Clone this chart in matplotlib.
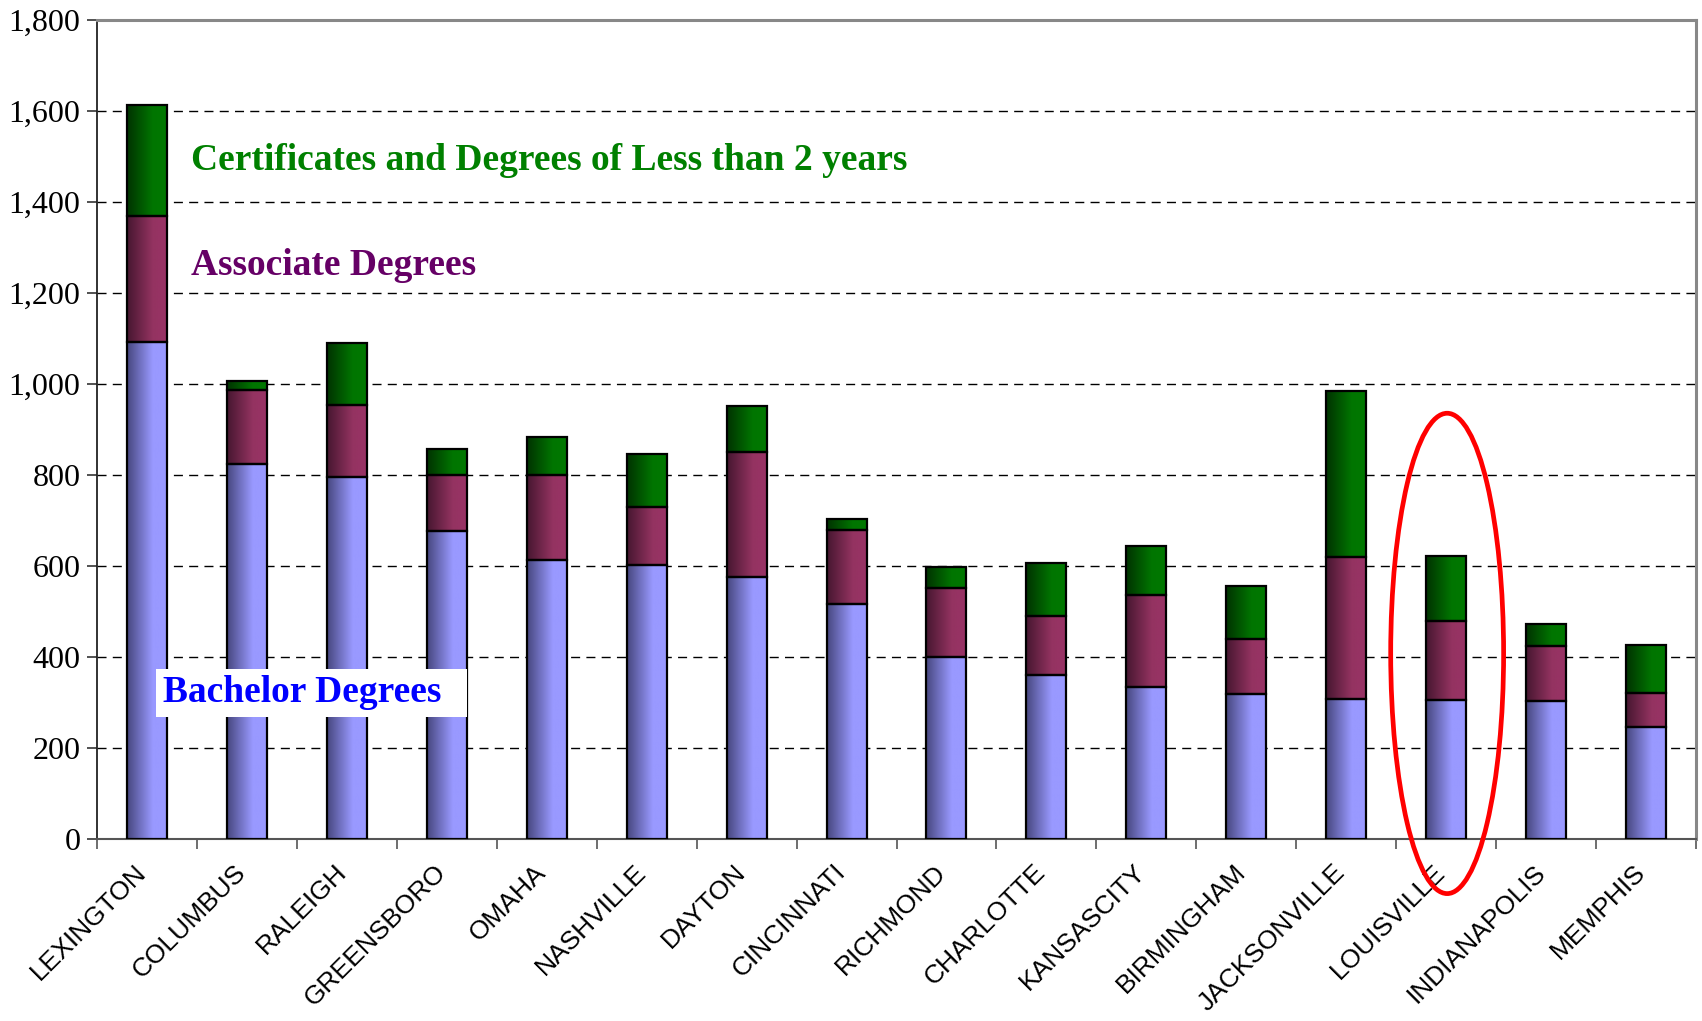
import numpy as np
import matplotlib
matplotlib.use("Agg")
import matplotlib.pyplot as plt
import matplotlib.transforms as mtransforms
from matplotlib.patches import Ellipse
from matplotlib.colors import LinearSegmentedColormap
from matplotlib.ticker import FuncFormatter, FixedLocator

cities = ["LEXINGTON", "COLUMBUS", "RALEIGH", "GREENSBORO", "OMAHA", "NASHVILLE",
          "DAYTON", "CINCINNATI", "RICHMOND", "CHARLOTTE", "KANSASCITY",
          "BIRMINGHAM", "JACKSONVILLE", "LOUISVILLE", "INDIANAPOLIS", "MEMPHIS"]
bachelor = [1091, 824, 795, 676, 613, 601, 575, 516, 399, 360, 332, 317, 307, 304, 302, 246]
associate = [277, 162, 157, 124, 187, 127, 275, 162, 152, 129, 203, 122, 312, 175, 121, 73]
certificates = [243, 19, 136, 55, 83, 117, 100, 24, 46, 117, 107, 115, 364, 142, 48, 106]
yticks = [0, 200, 400, 600, 800, 1000, 1200, 1400, 1600, 1800]
highlight = "LOUISVILLE"

fig = plt.figure(figsize=(17.02, 10.21), dpi=100)
ax = fig.add_axes([97 / 1702, 1 - 838.5 / 1021, (1696 - 97) / 1702, (838.5 - 19.5) / 1021])

x = np.arange(len(cities))
b = np.array(bachelor)
a = np.array(associate)
c = np.array(certificates)

grads = {
    "blue": [(0.0, (0.28, 0.28, 0.50)), (0.65, (0.60, 0.60, 1.0)), (1.0, (0.60, 0.60, 1.0))],
    "purple": [(0.0, (0.28, 0.09, 0.19)), (0.65, (0.58, 0.20, 0.38)), (1.0, (0.60, 0.20, 0.40))],
    "green": [(0.0, (0.0, 0.20, 0.0)), (0.65, (0.0, 0.46, 0.0)), (1.0, (0.0, 0.47, 0.0))],
}
grad_img = np.linspace(0, 1, 64).reshape(1, -1)

def grad_bars(bottom, height, key):
    cmap = LinearSegmentedColormap.from_list(key, grads[key])
    bars = ax.bar(x, height, width=0.4, bottom=bottom, facecolor="none",
                  edgecolor="black", linewidth=1.6, zorder=4)
    for r in bars:
        x0, y0 = r.get_x(), r.get_y()
        w, h = r.get_width(), r.get_height()
        im = ax.imshow(grad_img, cmap=cmap, aspect="auto", extent=(x0, x0 + w, y0, y0 + h),
                       zorder=3, interpolation="bilinear")
        im.set_clip_path(r)
    return bars

grad_bars(0, b, "blue")
grad_bars(b, a, "purple")
grad_bars(b + a, c, "green")

ax.set_xlim(-0.5, len(cities) - 0.5)
ax.set_ylim(0, 1800)

# grid
for yv in yticks[1:-1]:
    ax.axhline(yv, color="black", linewidth=1.0, linestyle=(0, (6.5, 4.5)), zorder=1)

ax.yaxis.set_major_locator(FixedLocator(yticks))
ax.yaxis.set_major_formatter(FuncFormatter(lambda v, p: f"{int(v):,}"))
ax.tick_params(axis="y", direction="out", length=7, width=1.2, color="#333333", pad=5,
               labelsize=23)
for lab in ax.get_yticklabels():
    lab.set_fontfamily("Liberation Serif")

ax.set_xticks(x)
ax.set_xticklabels(cities, rotation=45, ha="right", rotation_mode="anchor",
                   fontfamily="Liberation Sans", fontsize=19)
ax.tick_params(axis="x", which="major", length=0, pad=14)
offset = mtransforms.ScaledTranslation(-13 / 100, -2 / 100, fig.dpi_scale_trans)
for lab in ax.get_xticklabels():
    lab.set_transform(lab.get_transform() + offset)
ax.set_xticks(np.arange(-0.5, len(cities)), minor=True)
ax.tick_params(axis="x", which="minor", direction="out", length=7, width=1.2, color="#555555")

ax.spines["left"].set_color("#222222")
ax.spines["left"].set_linewidth(1.3)
ax.spines["bottom"].set_color("#555555")
ax.spines["bottom"].set_linewidth(1.5)
for s in ["top", "right"]:
    ax.spines[s].set_color("#888888")
    ax.spines[s].set_linewidth(2.2)

# annotations
ax.text(0.44, 1490, "Certificates and Degrees of Less than 2 years", color="#008000",
        fontsize=27, fontweight="bold", fontfamily="Liberation Serif", va="center",
        ha="left", zorder=6)
ax.text(0.44, 1260, "Associate Degrees", color="#660066",
        fontsize=27, fontweight="bold", fontfamily="Liberation Serif", va="center",
        ha="left", zorder=6)
ax.text(0.16, 320, "Bachelor Degrees\u2002", color="#0000FF",
        fontsize=27, fontweight="bold", fontfamily="Liberation Serif", va="center",
        ha="left", zorder=6,
        bbox=dict(facecolor="white", edgecolor="none", boxstyle="square,pad=0.18"))

# highlight ellipse
hi = cities.index(highlight)
hi_total = b[hi] + a[hi] + c[hi]
ax.add_patch(Ellipse((hi + 0.01, hi_total * 0.655), width=1.13, height=hi_total * 1.70,
                     fill=False, edgecolor="red", linewidth=3.4, zorder=7, clip_on=False))

fig.savefig("out.png", dpi=100, facecolor="white")
